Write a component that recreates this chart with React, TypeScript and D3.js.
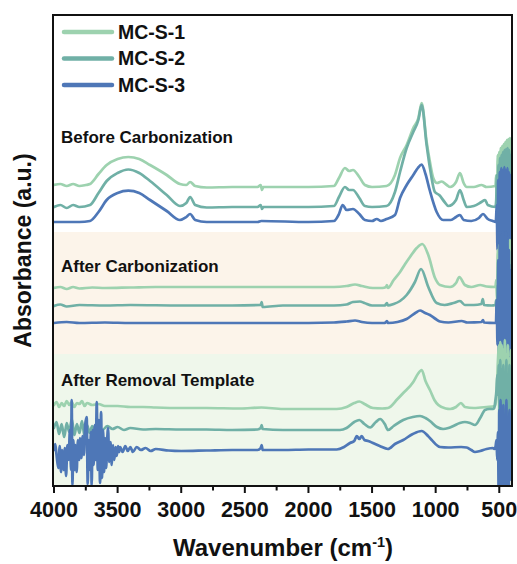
import React from "react";
import * as d3 from "d3";

type Pt = [number, number];

const seriesNames = ["MC-S-1", "MC-S-2", "MC-S-3"];
const seriesColors = ["#9dd2af", "#70b0a6", "#4e77b7"];
const panelLabels = ["Before Carbonization", "After Carbonization", "After Removal Template"];
const xTicksMajor = [4000, 3500, 3000, 2500, 2000, 1500, 1000, 500];
const xTicksMinor = [3750, 3250, 2750, 2250, 1750, 1250, 750];
// absorbance band limits (a.u.) of shaded panels: [top, bottom]
const bandLimits: Pt[] = [[254, 132], [132, 0]];
const bandColors = ["#fcf4ea", "#eff7eb"];

// ---------- Before Carbonization ----------
const before1: Pt[] = [
  [4000, 301], [3950, 302], [3900, 300], [3850, 302], [3800, 300], [3750, 301], [3717, 302], [3650, 312],
  [3586, 321], [3500, 327], [3416, 329], [3330, 327], [3245, 321], [3114, 311], [3010, 302], [2960, 301],
  [2930, 304], [2890, 300], [2800, 298.5], [2600, 299], [2400, 299], [2375, 301], [2365, 296], [2355, 299],
  [2200, 299], [2000, 299], [1800, 300], [1760, 308], [1713, 318], [1680, 315], [1650, 316], [1600, 309],
  [1556, 301], [1500, 299], [1386, 300], [1320, 311], [1280, 328], [1228, 341], [1176, 358], [1136, 368],
  [1110, 383], [1071, 344], [1045, 324], [1019, 308], [990, 303], [953, 304.5], [913, 301], [887, 299],
  [840, 304], [809, 313], [780, 303], [756, 299], [700, 299], [640, 301], [600, 299], [530, 300],
  [524, 311], [518, 286], [512, 331], [506, 276], [500, 334], [494, 266], [488, 338], [482, 271],
  [476, 340], [470, 261], [464, 342], [458, 256], [452, 344], [446, 258], [440, 346], [434, 251],
  [428, 347], [422, 254], [416, 348], [410, 261], [404, 346], [400, 286],
];
const before2: Pt[] = [
  [4000, 279], [3950, 281], [3900, 278], [3850, 281], [3800, 279], [3717, 281], [3650, 293], [3586, 305],
  [3500, 313], [3416, 316.5], [3330, 313], [3245, 305], [3114, 291], [3010, 280], [2960, 283], [2930, 289],
  [2890, 281], [2800, 278.5], [2600, 279], [2400, 279], [2375, 281], [2365, 277], [2355, 279], [2000, 279],
  [1800, 280], [1760, 289], [1713, 299], [1680, 296], [1650, 296], [1600, 288], [1556, 280], [1500, 279],
  [1386, 280], [1320, 294], [1280, 314], [1228, 338], [1176, 354], [1136, 366], [1110, 381], [1071, 341],
  [1045, 318], [1006, 294], [972, 291], [930, 284], [900, 280], [840, 286], [809, 296], [780, 286],
  [756, 279], [700, 280], [640, 284], [612, 286], [590, 281], [530, 279],
  [524, 286], [518, 311], [512, 261], [506, 321], [500, 251], [494, 328], [488, 241], [482, 331],
  [476, 246], [470, 334], [464, 236], [458, 336], [452, 231], [446, 337], [440, 241], [434, 338],
  [428, 226], [422, 336], [416, 236], [410, 331], [404, 246], [400, 276],
];
const before3: Pt[] = [
  [4000, 264], [3900, 264], [3800, 264], [3717, 265], [3650, 274], [3586, 286], [3500, 293], [3416, 295.3],
  [3330, 293], [3245, 286], [3114, 275], [3010, 266], [2960, 269], [2930, 272], [2890, 266], [2800, 264],
  [2600, 264], [2400, 264], [2370, 265], [2000, 264], [1800, 265], [1760, 272], [1731, 281], [1700, 276],
  [1650, 277], [1600, 272], [1556, 266], [1500, 265], [1463, 267], [1430, 265], [1386, 267], [1320, 271],
  [1280, 288], [1228, 301], [1176, 311], [1140, 318], [1110, 321.5], [1080, 312], [1045, 295], [992, 274],
  [942, 266], [880, 266], [840, 269], [809, 271], [780, 266], [720, 265], [660, 268], [628, 272],
  [590, 267], [550, 265], [530, 264],
  [526, 266], [520, 281], [514, 236], [508, 306], [502, 216], [496, 314], [490, 196], [484, 318],
  [478, 186], [472, 316], [466, 176], [460, 319], [454, 191], [448, 316], [442, 166], [436, 318],
  [430, 186], [424, 314], [418, 171], [412, 311], [406, 196], [400, 246],
];

// ---------- After Carbonization ----------
const after1: Pt[] = [
  [4000, 198], [3950, 199], [3900, 197], [3850, 199], [3800, 197.5], [3700, 198.5], [3600, 198], [3400, 198.5],
  [3200, 199], [2800, 199], [2400, 199], [2000, 199], [1800, 199], [1700, 200], [1634, 201.5], [1580, 200],
  [1493, 198], [1420, 198], [1390, 199], [1383, 201], [1375, 198], [1330, 206], [1280, 214], [1240, 222],
  [1202, 229], [1149, 238], [1105, 242], [1058, 231], [1005, 208], [966, 201], [887, 199], [840, 203],
  [814, 209], [770, 201], [720, 199], [650, 201], [600, 199.5], [530, 199],
  [524, 206], [518, 186], [512, 236], [506, 166], [500, 241], [494, 146], [488, 226], [482, 136],
  [476, 246], [470, 156], [464, 231], [458, 129], [452, 241], [446, 146], [440, 224], [434, 131],
  [428, 236], [422, 141], [416, 246], [410, 156], [404, 216], [400, 186],
];
const after2: Pt[] = [
  [4000, 180], [3950, 181.5], [3900, 179.5], [3800, 181], [3600, 180.5], [3400, 181], [3000, 180.5], [2600, 180.5],
  [2375, 181], [2368, 184], [2360, 179], [2200, 180.5], [1800, 180.5], [1700, 181.5], [1650, 184], [1595, 184.5],
  [1560, 183], [1500, 180.5], [1400, 180.5], [1383, 183], [1375, 180.5], [1330, 182], [1280, 185], [1228, 191],
  [1163, 204], [1115, 217], [1058, 199], [992, 183], [930, 181], [860, 183], [809, 185], [770, 181],
  [700, 181], [640, 182], [630, 187], [620, 181], [560, 180.5], [530, 181],
  [524, 186], [518, 171], [512, 201], [506, 151], [500, 216], [494, 136], [488, 221], [482, 121],
  [476, 211], [470, 106], [464, 226], [458, 126], [452, 206], [446, 111], [440, 231], [434, 116],
  [428, 216], [422, 126], [416, 221], [410, 136], [404, 196], [400, 166],
];
const after3: Pt[] = [
  [4000, 163], [3900, 164], [3800, 163], [3600, 163.5], [3400, 163], [3000, 163], [2600, 163], [2200, 163],
  [1800, 163.5], [1700, 164.5], [1634, 165.5], [1580, 164], [1500, 163], [1400, 163], [1383, 165], [1375, 163],
  [1300, 164], [1228, 167], [1160, 173], [1123, 175.5], [1090, 173.5], [1045, 171], [1000, 167], [966, 164.5],
  [900, 163.5], [796, 165], [750, 163.5], [640, 164], [628, 166], [620, 163.5], [530, 163],
  [526, 163], [520, 186], [514, 141], [508, 226], [502, 106], [496, 246], [490, 86], [484, 251],
  [478, 76], [472, 254], [466, 66], [460, 248], [454, 86], [448, 254], [442, 56], [436, 246],
  [430, 91], [424, 236], [418, 76], [412, 216], [406, 106], [400, 156],
];

// ---------- After Removal Template ----------
const removal1: Pt[] = [
  [4000, 81], [3980, 84], [3960, 79], [3940, 83], [3920, 80], [3900, 85], [3880, 81], [3860, 84],
  [3840, 79], [3820, 83], [3800, 82], [3780, 85], [3760, 80], [3740, 83], [3700, 81], [3650, 82],
  [3600, 80], [3500, 80], [3400, 79], [3300, 79], [3200, 78.5], [3000, 78], [2800, 78], [2538, 77.5],
  [2370, 78.5], [2200, 77], [2000, 77], [1778, 77], [1700, 79], [1640, 83], [1600, 84.5], [1560, 82],
  [1493, 78], [1420, 77.5], [1375, 78], [1300, 87], [1255, 93], [1176, 104], [1140, 112], [1110, 116],
  [1080, 105], [1045, 96], [1010, 86], [979, 81], [920, 77.5], [887, 77], [840, 79], [801, 83],
  [770, 79], [700, 78], [600, 79], [533, 80],
  [525, 86], [518, 101], [512, 121], [506, 136], [500, 141], [496, 76], [492, 144], [486, 66],
  [480, 141], [474, 16], [468, 136], [462, 56], [456, 146], [450, 8], [444, 131], [438, 46],
  [432, 141], [426, 11], [420, 126], [414, 56], [408, 136], [402, 66], [400, 86],
];
const removal2: Pt[] = [
  [4000, 58], [3980, 64], [3960, 52], [3940, 62], [3920, 49], [3900, 63], [3880, 54], [3860, 67],
  [3840, 51], [3820, 62], [3800, 53], [3780, 65], [3760, 50], [3740, 61], [3720, 53], [3700, 60],
  [3680, 55], [3650, 61], [3620, 56], [3580, 60], [3540, 57], [3500, 59], [3450, 56], [3400, 58],
  [3300, 56.5], [3200, 57], [3000, 56.5], [2800, 56.5], [2600, 56], [2400, 56.5], [2375, 58], [2368, 61],
  [2360, 57], [2200, 56], [2000, 56], [1752, 56], [1700, 58], [1640, 64], [1600, 66], [1560, 62],
  [1515, 58.5], [1470, 64], [1437, 67], [1400, 62], [1375, 56], [1330, 60], [1255, 66], [1180, 69],
  [1123, 70], [1080, 68], [1045, 65], [990, 59], [942, 57], [900, 58], [861, 60], [810, 63],
  [770, 64], [730, 63], [691, 61], [650, 68], [612, 76], [580, 77], [550, 77],
  [540, 78], [530, 86], [522, 96], [516, 111], [510, 91], [504, 121], [498, 56], [492, 126],
  [486, 26], [480, 116], [474, 41], [468, 121], [462, 16], [456, 114], [450, 46], [444, 126],
  [438, 21], [432, 111], [426, 36], [420, 121], [414, 26], [408, 106], [402, 46], [400, 66],
];
const removal3: Pt[] = [
  [4000, 36], [3990, 42], [3980, 31], [3966, 18], [3955, 40], [3945, 14], [3935, 36], [3925, 16],
  [3915, 38], [3905, 10], [3895, 41], [3885, 26], [3875, 56], [3866, 16], [3861, 86], [3855, 1],
  [3848, 46], [3840, 16], [3832, 41], [3822, 14], [3812, 46], [3802, 26], [3795, 48], [3785, 28],
  [3775, 50], [3765, 31], [3755, 61], [3743, 69], [3735, 2], [3727, 46], [3718, 16], [3710, 54],
  [3704, 1], [3696, 56], [3688, 21], [3680, 61], [3672, 26], [3664, 84], [3656, 16], [3648, 66],
  [3638, 3], [3630, 74], [3622, 8], [3614, 56], [3606, 14], [3598, 48], [3590, 18], [3582, 46],
  [3575, 58], [3566, 24], [3556, 44], [3546, 21], [3536, 41], [3526, 26], [3516, 39], [3507, 30],
  [3497, 40], [3488, 34], [3480, 39], [3460, 34], [3440, 40], [3420, 35], [3400, 39], [3380, 34],
  [3350, 39], [3317, 36], [3280, 38], [3240, 35], [3200, 37], [3100, 35.5], [3000, 35], [2800, 35.5],
  [2600, 36], [2400, 36], [2375, 38], [2368, 41], [2360, 36], [2200, 36], [2000, 36.5], [1778, 36.5],
  [1720, 39], [1673, 43], [1640, 45], [1620, 50], [1600, 47], [1581, 50], [1560, 46], [1530, 45],
  [1493, 43], [1440, 40], [1375, 37], [1320, 42], [1255, 46], [1180, 52], [1110, 55], [1060, 50],
  [1031, 46], [966, 39], [900, 38.5], [800, 39], [756, 38.5], [720, 36], [691, 34], [650, 35],
  [600, 37], [550, 38],
  [540, 37], [530, 39], [522, 46], [516, 26], [510, 54], [505, -5], [500, 76], [495, -5],
  [490, 86], [485, -5], [480, 66], [474, -5], [468, 81], [462, -5], [456, 71], [450, -5],
  [444, 86], [438, -5], [432, 66], [426, -5], [420, 76], [414, 6], [408, 56], [402, 16], [400, 36],
];

const panels: Pt[][][] = [
  [before1, before2, before3],
  [after1, after2, after3],
  [removal1, removal2, removal3],
];

const W = 517;
const H = 564;
const M = { left: 54, right: 512, top: 15, bottom: 486 };
const FONT = "'Liberation Sans', Arial, Helvetica, sans-serif";

export default function App() {
  const x = d3.scaleLinear().domain([4000, 400]).range([M.left, M.right]);
  const y = d3.scaleLinear().domain([0, 471]).range([M.bottom, M.top]);
  const line = d3
    .line<Pt>()
    .x((d) => x(d[0]))
    .y((d) => y(d[1]))
    .curve(d3.curveMonotoneX);

  const labelY = [143, 272, 386];
  const legendY = [32, 58.5, 85];

  return (
    <svg width={W} height={H} style={{ display: "block", position: "absolute", left: 0, top: 0 }} fontFamily={FONT}>
      <defs>
        <clipPath id="plotclip">
          <rect x={M.left} y={M.top} width={M.right - M.left} height={M.bottom - M.top} />
        </clipPath>
      </defs>
      <rect x={0} y={0} width={W} height={H} fill="#ffffff" />
      {bandLimits.map((b, i) => (
        <rect key={i} x={M.left} y={y(b[0])} width={M.right - M.left} height={y(b[1]) - y(b[0])} fill={bandColors[i]} />
      ))}
      <g clipPath="url(#plotclip)">
        {panels.map((pan, pi) =>
          pan.map((data, si) => (
            <path
              key={pi + "-" + si}
              d={line(data) || ""}
              fill="none"
              stroke={seriesColors[si]}
              strokeWidth={2.7}
              strokeLinejoin="round"
              strokeLinecap="round"
            />
          ))
        )}
      </g>
      {panelLabels.map((t, i) => (
        <text key={t} x={61} y={labelY[i]} fontSize={17} fontWeight="bold" fill="#111">
          {t}
        </text>
      ))}
      {seriesNames.map((n, i) => (
        <g key={n}>
          <line x1={64} x2={112} y1={legendY[i]} y2={legendY[i]} stroke={seriesColors[i]} strokeWidth={4.5} strokeLinecap="round" />
          <text x={118} y={legendY[i] + 6.8} fontSize={19.5} fontWeight="bold" fill="#111">
            {n}
          </text>
        </g>
      ))}
      <rect x={M.left - 1} y={M.top} width={M.right - M.left + 1} height={M.bottom - M.top} fill="none" stroke="#111" strokeWidth={2} />
      {xTicksMajor.map((t) => (
        <g key={t}>
          <line x1={x(t)} x2={x(t)} y1={M.bottom} y2={M.bottom + 7} stroke="#111" strokeWidth={2} />
          <text x={x(t)} y={517} textAnchor="middle" fontSize={21.5} fontWeight="bold" fill="#111">
            {t}
          </text>
        </g>
      ))}
      {xTicksMinor.map((t) => (
        <line key={t} x1={x(t)} x2={x(t)} y1={M.bottom} y2={M.bottom + 4.5} stroke="#111" strokeWidth={2} />
      ))}
      <text x={283} y={556} textAnchor="middle" fontSize={24} fontWeight="bold" fill="#111">
        Wavenumber (cm
        <tspan dy={-9} fontSize={14.5}>-1</tspan>
        <tspan dy={9}>)</tspan>
      </text>
      <text
        transform={`translate(31, ${(M.top + M.bottom) / 2}) rotate(-90)`}
        textAnchor="middle"
        fontSize={23}
        fontWeight="bold"
        fill="#111"
      >
        Absorbance (a.u.)
      </text>
    </svg>
  );
}
